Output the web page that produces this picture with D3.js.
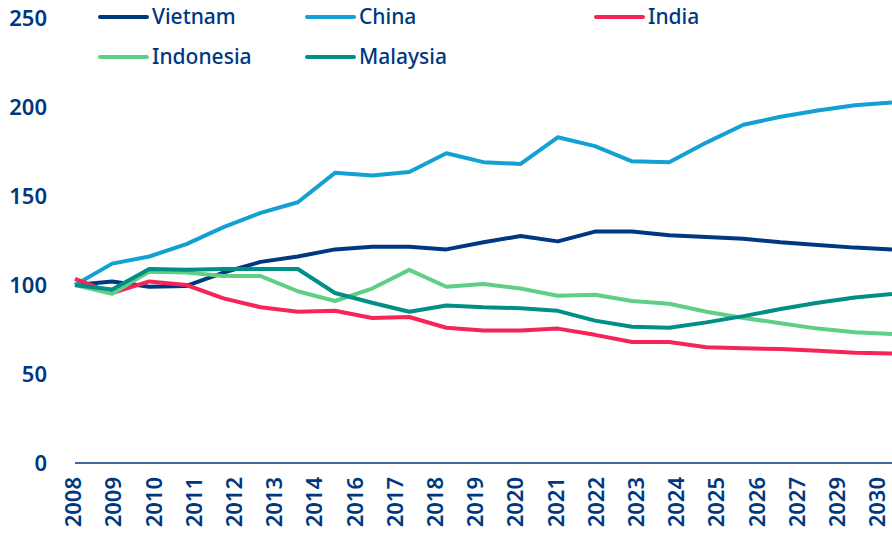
<!DOCTYPE html>
<html>
<head>
<meta charset="utf-8">
<script src="https://cdn.jsdelivr.net/npm/d3@7"></script>
<style>
  body { margin: 0; background: #fff; }
  svg text { font-family: "Noto Sans", sans-serif; fill: #003781; }
</style>
</head>
<body>
<div id="chart"></div>
<script>
const years = d3.range(2008, 2031);
// tick labels as printed under the axis (2015 and 2028 are absent in the source)
const tickLabels = ["2008", "2009", "2010", "2011", "2012", "2013", "2014", "2016", "2017", "2018",
  "2019", "2020", "2021", "2022", "2023", "2024", "2025", "2026", "2027", "2029", "2030"];
const yTicks = [0, 50, 100, 150, 200, 250];

const vietnam = [100, 102, 99, 99.5, 107, 113, 116, 120, 121.5, 121.5, 120, 124, 127.5, 124.5, 130, 130, 128, 127, 126, 124, 122.5, 121, 120];
const china = [100, 112, 116, 123, 132.5, 140.5, 146.5, 163, 161.5, 163.5, 174, 169, 168, 183, 178, 169.5, 169, 180, 190, 194.5, 198, 201, 202.5];
const india = [103.5, 95.5, 102, 100, 92.5, 87.5, 85, 85.5, 81.5, 82, 76, 74.5, 74.5, 75.5, 72, 68, 68, 65, 64.5, 64, 63, 62, 61.5];
const indonesia = [100, 95, 107.5, 107, 105, 105, 96.5, 91, 98, 108.5, 99, 100.5, 98, 94, 94.5, 91, 89.5, 85, 81.5, 78.5, 75.5, 73.5, 72.5];
const malaysia = [100, 97.5, 109, 108.5, 109, 109, 109, 95.5, 90, 85, 88.5, 87.5, 87, 85.5, 80, 76.5, 76, 79, 82.5, 86.5, 90, 93, 95];

const series = [
  { name: "Vietnam", values: vietnam, color: "#003781" },
  { name: "China", values: china, color: "#13A0D3" },
  { name: "India", values: india, color: "#F62459" },
  { name: "Indonesia", values: indonesia, color: "#5FCF85" },
  { name: "Malaysia", values: malaysia, color: "#008E87" }
];

const width = 892, height = 536;
const svg = d3.select("#chart").append("svg")
  .attr("width", width)
  .attr("height", height);

const x = d3.scalePoint().domain(years).range([75, 892]);
const xLab = d3.scalePoint().domain(tickLabels).range([73, 877]);
const y = d3.scaleLinear().domain([0, 250]).range([463, 18]);

// y axis labels
svg.append("g")
  .attr("transform", "translate(47,0)")
  .call(d3.axisLeft(y).tickValues(yTicks).tickSize(0).tickPadding(0))
  .call(g => g.select(".domain").remove())
  .selectAll("text")
  .style("font-size", "22px")
  .style("font-weight", "600")
  .attr("fill", "#003781")
  .attr("dy", "0.35em");

// x axis baseline + rotated labels
const xg = svg.append("g")
  .attr("transform", "translate(0,463)")
  .call(d3.axisBottom(xLab).tickSize(0).tickPadding(0));
xg.select(".domain").remove();
xg.append("line")
  .attr("x1", 75).attr("x2", 892)
  .attr("stroke", "#003781").attr("stroke-width", 1.5);
xg.selectAll(".tick text")
  .attr("transform", "rotate(-90)")
  .attr("x", -14)
  .attr("y", 0)
  .attr("dy", "0.35em")
  .style("text-anchor", "end")
  .style("font-size", "22px")
  .style("font-weight", "600")
  .attr("fill", "#003781");

const line = d3.line()
  .x((d, i) => x(years[i]))
  .y(d => y(d));

svg.selectAll(".series")
  .data(series)
  .join("path")
  .attr("class", "series")
  .attr("fill", "none")
  .attr("stroke", d => d.color)
  .attr("stroke-width", 4)
  .attr("stroke-linejoin", "round")
  .attr("d", d => line(d.values));

// legend
const legendPos = [[100, 17], [307, 17], [596, 17], [100, 57], [307, 57]];
const legend = svg.selectAll(".legend")
  .data(series)
  .join("g")
  .attr("class", "legend")
  .attr("transform", (d, i) => `translate(${legendPos[i][0]},${legendPos[i][1]})`);
legend.append("line")
  .attr("x1", 0).attr("x2", 47)
  .attr("stroke", d => d.color)
  .attr("stroke-width", 4)
  .attr("stroke-linecap", "round");
legend.append("text")
  .attr("x", 52)
  .attr("dy", "0.35em")
  .style("font-size", "21px")
  .style("font-weight", "500")
  .text(d => d.name);
</script>
</body>
</html>
